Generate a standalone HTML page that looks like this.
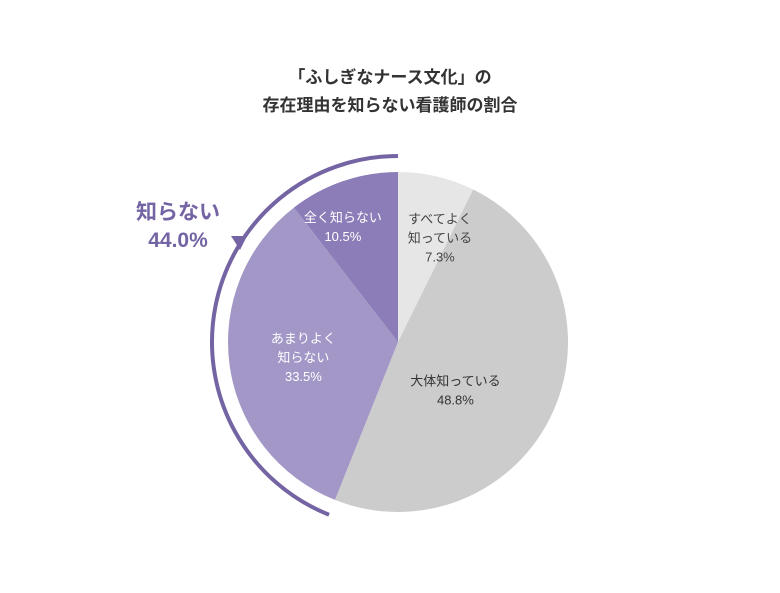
<!DOCTYPE html>
<html><head><meta charset="utf-8"><style>
body{margin:0;background:#fff;}
svg text{font-family:"Liberation Sans","Noto Sans CJK JP",sans-serif;}
</style></head><body>
<svg width="780" height="588" viewBox="0 0 780 588">
<text x="390" y="83" text-anchor="middle" font-size="17" font-weight="bold" fill="#333">「ふしぎなナース文化」の</text>
<text x="390" y="111" text-anchor="middle" font-size="17" font-weight="bold" fill="#333">存在理由を知らない看護師の割合</text>
<g id="slices"></g>
<g id="labels"></g>
<path id="bracket" fill="none" stroke="#7464a3" stroke-width="4"/>
<polygon points="231,236 247,236 240,250" fill="#7464a3"/>
<text x="178" y="219" text-anchor="middle" font-size="21" font-weight="bold" fill="#7464a3">知らない</text>
<text x="178" y="247" text-anchor="middle" font-size="21" font-weight="bold" fill="#7464a3">44.0%</text>
</svg>
<script>
const categories=["すべてよく\n知っている","大体知っている","あまりよく\n知らない","全く知らない"];
const values=[7.3,48.8,33.5,10.5];
const colors=["#e6e6e6","#cccccc","#a297c6","#8c7db8"];
const textColors=["#444","#333","#fff","#fff"];
const labelNudge=[[18,-1],[-28,11],[-2,3],[-21,-15]];
const cx=398,cy=342,r=170;
const ns="http://www.w3.org/2000/svg";
const total=values.reduce((a,b)=>a+b,0);
function pt(frac,rad){const a=frac*2*Math.PI;return [cx+rad*Math.sin(a),cy-rad*Math.cos(a)];}
let acc=0;
const sg=document.getElementById('slices'),lg=document.getElementById('labels');
values.forEach((v,i)=>{
 const s=acc/total,e=(acc+v)/total;acc+=v;
 const p0=pt(s,r),p1=pt(e,r);
 const p=document.createElementNS(ns,'path');
 p.setAttribute('d',`M${cx},${cy}L${p0[0]},${p0[1]}A${r},${r} 0 ${e-s>0.5?1:0} 1 ${p1[0]},${p1[1]}Z`);
 p.setAttribute('fill',colors[i]);
 
 
 sg.appendChild(p);
 const m=(s+e)/2;const lr=(e-s)<0.12?r*0.62:r*0.55;
 const lp0=pt(m,lr);const lp=[lp0[0]+labelNudge[i][0],lp0[1]+labelNudge[i][1]];
 const lines=categories[i].split("\n").concat([v.toFixed(1)+"%"]);
 const t=document.createElementNS(ns,'text');
 t.setAttribute('text-anchor','middle');t.setAttribute('font-size','13');t.setAttribute('fill',textColors[i]);
 
 
 const y0=lp[1]-(lines.length-1)*9.5+4;
 lines.forEach((ln,j)=>{const ts=document.createElementNS(ns,'tspan');ts.setAttribute('x',lp[0]);ts.setAttribute('y',y0+j*19);ts.textContent=ln;t.appendChild(ts);});
 lg.appendChild(t);
});
const kStart=(values[0]+values[1])/total;
const br=186;
const b0=pt(kStart,br),b1=pt(1,br);
document.getElementById('bracket').setAttribute('d',`M${b0[0]},${b0[1]}A${br},${br} 0 ${1-kStart>0.5?1:0} 1 ${b1[0]},${b1[1]}`);
</script>
</body></html>
